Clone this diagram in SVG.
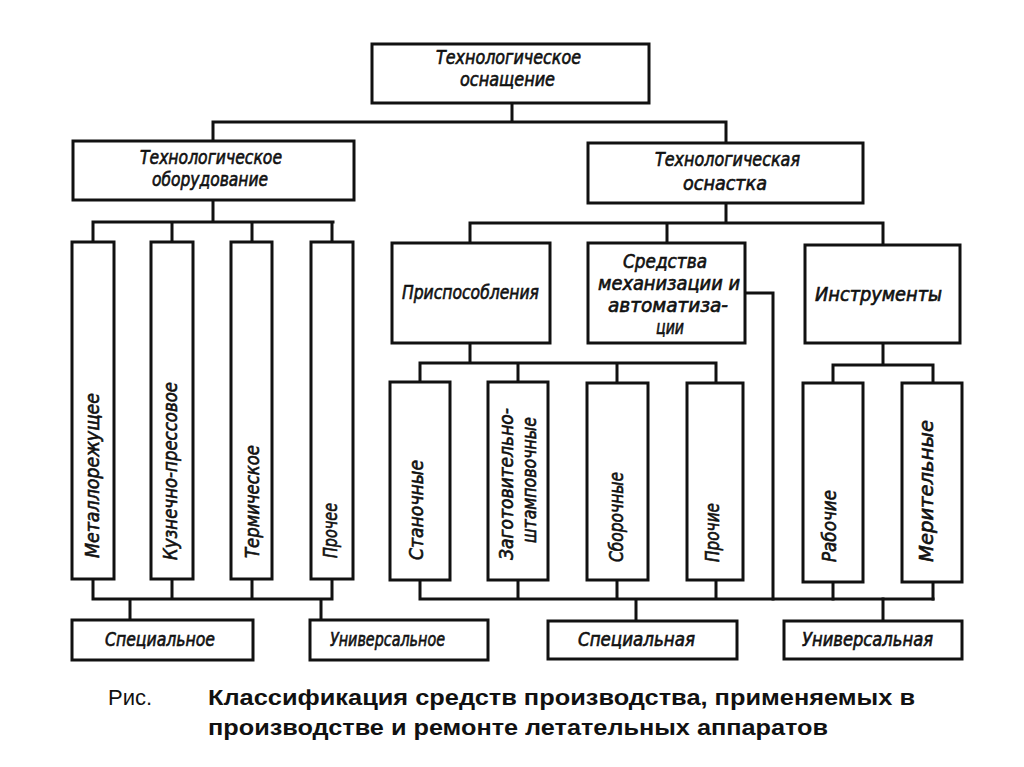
<svg xmlns="http://www.w3.org/2000/svg" width="1024" height="767" viewBox="0 0 1024 767">
<style>
.box{fill:#fff;stroke:#111;stroke-width:3}
.ln{fill:none;stroke:#111;stroke-width:3;stroke-linejoin:miter;stroke-linecap:square}
.t{font-family:"DejaVu Sans Condensed","Liberation Sans Narrow","DejaVu Sans",sans-serif;font-style:italic;font-size:19px;fill:#111;stroke:#111;stroke-width:0.6}
.tc{text-anchor:middle}
.cap{font-family:"Liberation Sans",Arial,sans-serif;font-size:22px;fill:#111}
</style>
<rect width="1024" height="767" fill="#fff"/>
<g id="connectors">
<path class="ln" d="M512,103V122M213,122H726M213,122V141M726,122V143"/>
<path class="ln" d="M213,200V222M93,222H333M93,222V242M172,222V242M252,222V242M332,222V242"/>
<path class="ln" d="M93,579V599M172,579V599M252,579V599M332,579V599M93,599H332M130,599V620M321,599V620"/>
<path class="ln" d="M726,203V223M470,223H883M470,223V243M667,223V243M883,223V245"/>
<path class="ln" d="M745,293H773V599"/>
<path class="ln" d="M470,343V363M420,363H716M420,363V382M518,363V382M617,363V383M716,363V383"/>
<path class="ln" d="M420,580V599M518,580V599M617,580V599M716,580V599M420,599H933M636,599V621"/>
<path class="ln" d="M883,343V365M833,365H933M833,365V383M933,365V383M833,582V599M933,582V599M883,599V621"/>
</g>
<g id="n-osnashchenie"><rect class="box" x="372" y="44" width="277" height="59"/>
<text class="t" x="436" y="64" textLength="145" lengthAdjust="spacingAndGlyphs">Технологическое</text>
<text class="t" x="460" y="86" textLength="95" lengthAdjust="spacingAndGlyphs">оснащение</text></g>
<g id="n-oborudovanie"><rect class="box" x="73" y="141" width="281" height="59"/>
<text class="t" x="140" y="164" textLength="142" lengthAdjust="spacingAndGlyphs">Технологическое</text>
<text class="t" x="152" y="186" textLength="116" lengthAdjust="spacingAndGlyphs">оборудование</text></g>
<g id="n-osnastka"><rect class="box" x="588" y="143" width="275" height="60"/>
<text class="t" x="655" y="166" textLength="145" lengthAdjust="spacingAndGlyphs">Технологическая</text>
<text class="t" x="683" y="190" textLength="84" lengthAdjust="spacingAndGlyphs">оснастка</text></g>
<g id="n-metal"><rect class="box" x="72" y="242" width="42" height="337"/>
<text class="t" transform="translate(99,558) rotate(-90)" textLength="165" lengthAdjust="spacingAndGlyphs">Металлорежущее</text></g>
<g id="n-kuzn"><rect class="box" x="151" y="242" width="42" height="337"/>
<text class="t" transform="translate(177,560) rotate(-90)" textLength="178" lengthAdjust="spacingAndGlyphs">Кузнечно-прессовое</text></g>
<g id="n-term"><rect class="box" x="231" y="242" width="41" height="337"/>
<text class="t" transform="translate(259,558) rotate(-90)" textLength="113" lengthAdjust="spacingAndGlyphs">Термическое</text></g>
<g id="n-prochee"><rect class="box" x="311" y="242" width="42" height="337"/>
<text class="t" transform="translate(337,558) rotate(-90)" textLength="55" lengthAdjust="spacingAndGlyphs">Прочее</text></g>
<g id="n-prisp"><rect class="box" x="392" y="243" width="158" height="100"/>
<text class="t" x="402" y="299" textLength="137" lengthAdjust="spacingAndGlyphs">Приспособления</text></g>
<g id="n-sredstva"><rect class="box" x="588" y="243" width="157" height="100"/>
<text class="t" x="623" y="268" textLength="84" lengthAdjust="spacingAndGlyphs">Средства</text>
<text class="t" x="598" y="290" textLength="142" lengthAdjust="spacingAndGlyphs">механизации и</text>
<text class="t" x="608" y="312" textLength="120" lengthAdjust="spacingAndGlyphs">автоматиза-</text>
<text class="t" x="656" y="334" textLength="28" lengthAdjust="spacingAndGlyphs">ции</text></g>
<g id="n-instr"><rect class="box" x="805" y="245" width="155" height="98"/>
<text class="t" x="815" y="301" textLength="127" lengthAdjust="spacingAndGlyphs">Инструменты</text></g>
<g id="n-stan"><rect class="box" x="390" y="382" width="60" height="198"/>
<text class="t" transform="translate(423,560) rotate(-90)" textLength="100" lengthAdjust="spacingAndGlyphs">Станочные</text></g>
<g id="n-zagot"><rect class="box" x="488" y="382" width="60" height="198"/>
<text class="t tc" transform="translate(513,484) rotate(-90)" textLength="152" lengthAdjust="spacingAndGlyphs">Заготовительно-</text>
<text class="t tc" transform="translate(536,480) rotate(-90)" textLength="126" lengthAdjust="spacingAndGlyphs">штамповочные</text></g>
<g id="n-sbor"><rect class="box" x="587" y="383" width="61" height="197"/>
<text class="t" transform="translate(623,562) rotate(-90)" textLength="90" lengthAdjust="spacingAndGlyphs">Сборочные</text></g>
<g id="n-prochie"><rect class="box" x="687" y="383" width="56" height="197"/>
<text class="t" transform="translate(719,562) rotate(-90)" textLength="59" lengthAdjust="spacingAndGlyphs">Прочие</text></g>
<g id="n-rab"><rect class="box" x="803" y="383" width="60" height="199"/>
<text class="t" transform="translate(836,562) rotate(-90)" textLength="72" lengthAdjust="spacingAndGlyphs">Рабочие</text></g>
<g id="n-mer"><rect class="box" x="902" y="383" width="60" height="199"/>
<text class="t" transform="translate(933,562) rotate(-90)" textLength="142" lengthAdjust="spacingAndGlyphs">Мерительные</text></g>
<g id="n-spec1"><rect class="box" x="72" y="620" width="181" height="40"/>
<text class="t" x="105" y="646" textLength="110" lengthAdjust="spacingAndGlyphs">Специальное</text></g>
<g id="n-univ1"><rect class="box" x="310" y="620" width="178" height="40"/>
<text class="t" x="330" y="646" textLength="115" lengthAdjust="spacingAndGlyphs">Универсальное</text></g>
<g id="n-spec2"><rect class="box" x="548" y="621" width="189" height="38"/>
<text class="t" x="578" y="646" textLength="117" lengthAdjust="spacingAndGlyphs">Специальная</text></g>
<g id="n-univ2"><rect class="box" x="784" y="621" width="178" height="38"/>
<text class="t" x="802" y="646" textLength="131" lengthAdjust="spacingAndGlyphs">Универсальная</text></g>
<g id="caption">
<text class="cap" x="108" y="705" fill="#333">Рис.</text>
<text class="cap" x="208" y="705" font-weight="bold" textLength="707" lengthAdjust="spacingAndGlyphs">Классификация средств производства, применяемых в</text>
<text class="cap" x="208" y="735" font-weight="bold" textLength="620" lengthAdjust="spacingAndGlyphs">производстве и ремонте летательных аппаратов</text>
</g>
</svg>
